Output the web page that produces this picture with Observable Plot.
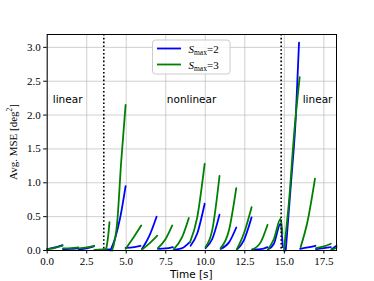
<!DOCTYPE html>
<html>
<head>
<meta charset="utf-8">
<script src="https://cdn.jsdelivr.net/npm/d3@7"></script>
<script src="https://cdn.jsdelivr.net/npm/@observablehq/plot@0.6"></script>
<style>
  html, body { margin: 0; padding: 0; background: #fff; }
  #chart svg { display: block; }
</style>
</head>
<body>
<div id="chart"></div>
<script>
// ---- data ----
const xTicks = [0, 2.5, 5, 7.5, 10, 12.5, 15, 17.5];
const yTicks = [0, 0.5, 1, 1.5, 2, 2.5, 3];
const phaseBoundaries = [3.58, 14.8];
const phaseNames = ["linear", "nonlinear", "linear"];
const phaseNameT = [1.29, 9.13, 17.1];
const phaseNameV = [2.23, 2.23, 2.23];
const seriesKeys = ["2", "3"];
const seriesColors = ["#0000ff", "#008000"];

// S_max = 2 (blue): segments of [time, avg MSE]
const blueSegments = [
  [[0, 0.02], [0.5, 0.045], [0.97, 0.08]],
  [[1.0, 0.02], [1.5, 0.025], [1.97, 0.03]],
  [[2.0, 0.015], [2.5, 0.03], [2.95, 0.06]],
  [[3.0, 0.01], [3.5, 0.012], [3.95, 0.015]],
  [[4.0, 0.0], [4.32, 0.2], [4.63, 0.5], [4.96, 0.95]],
  [[4.96, 0.04], [5.5, 0.05], [5.9, 0.07]],
  [[6.0, 0.025], [6.43, 0.2], [6.92, 0.5]],
  [[7.0, 0.025], [7.5, 0.03], [7.95, 0.05]],
  [[8.0, 0.01], [8.5, 0.03], [9.0, 0.12]],
  [[9.07, 0.07], [9.49, 0.25], [9.96, 0.69]],
  [[10.02, 0.035], [10.44, 0.17], [10.9, 0.53]],
  [[10.97, 0.025], [11.5, 0.12], [11.96, 0.34]],
  [[12.0, 0.015], [12.44, 0.15], [12.93, 0.49]],
  [[12.97, 0.015], [13.5, 0.02], [13.94, 0.05]],
  [[13.97, 0.015], [14.34, 0.1], [14.77, 0.4], [14.9, 0.05]],
  [[15.09, 0.0], [15.41, 0.96], [15.72, 1.95], [15.93, 3.07]],
  [[16.0, 0.025], [16.5, 0.045], [16.97, 0.07]],
  [[17.0, 0.02], [17.5, 0.035], [17.94, 0.05]],
  [[17.97, 0.015], [18.3, 0.07]]
];

// S_max = 3 (green)
const greenSegments = [
  [[0, 0.02], [0.5, 0.04], [0.97, 0.07]],
  [[1.0, 0.03], [1.5, 0.035], [1.97, 0.045]],
  [[2.0, 0.03], [2.5, 0.045], [2.97, 0.07]],
  [[3.0, 0.01], [3.5, 0.012], [3.7, 0.015]],
  [[3.73, 0.015], [3.85, 0.2], [3.94, 0.42]],
  [[4.1, 0.0], [4.43, 0.42], [4.68, 1.31], [4.96, 2.15]],
  [[4.96, 0.025], [5.48, 0.2], [5.95, 0.37]],
  [[6.0, 0.015], [6.54, 0.12], [6.96, 0.22]],
  [[7.0, 0.035], [7.49, 0.17], [7.91, 0.37]],
  [[8.0, 0.015], [8.54, 0.2], [8.96, 0.48]],
  [[9.03, 0.12], [9.49, 0.49], [9.96, 1.28]],
  [[10.02, 0.05], [10.44, 0.3], [10.9, 1.1]],
  [[10.97, 0.035], [11.5, 0.3], [11.96, 0.92]],
  [[11.99, 0.015], [12.44, 0.25], [12.93, 0.64]],
  [[12.97, 0.015], [13.5, 0.12], [13.94, 0.38]],
  [[13.97, 0.015], [14.34, 0.17], [14.77, 0.47], [14.88, 0.25]],
  [[14.97, 0.0], [15.29, 0.71], [15.61, 1.7], [15.97, 2.56]],
  [[16.03, 0.05], [16.46, 0.42], [16.94, 1.06]],
  [[17.0, 0.035], [17.5, 0.06], [17.94, 0.1]],
  [[18.0, 0.01], [18.3, 0.04]]
];

// ---- build table ----
function flatten(segs, key) {
  const out = [];
  segs.forEach((seg, i) => seg.forEach(([t, v]) => out.push({t, v, seg: key + "-" + i, key})));
  return out;
}
const rows = [...flatten(blueSegments, seriesKeys[0]), ...flatten(greenSegments, seriesKeys[1])];
const labels = phaseNames.map((s, i) => ({s, t: phaseNameT[i], v: phaseNameV[i]}));

const serif = "'Liberation Serif', 'DejaVu Serif', serif";
const sans = "'DejaVu Sans', sans-serif";

const W = 374, H = 281, mL = 46.7, mR = 38, mT = 34, mB = 31;

const chart = Plot.plot({
  width: W, height: H,
  marginLeft: mL, marginRight: mR, marginTop: mT, marginBottom: mB,
  style: {background: "#fff", overflow: "visible"},
  x: {domain: [0, 18.3]},
  y: {domain: [0, 3.19]},
  color: {domain: seriesKeys, range: seriesColors},
  marks: [
    Plot.gridX(xTicks, {stroke: "#b0b0b0", strokeOpacity: 0.6, strokeWidth: 1}),
    Plot.gridY(yTicks, {stroke: "#b0b0b0", strokeOpacity: 0.6, strokeWidth: 1}),
    Plot.line(rows, {x: "t", y: "v", z: "seg", stroke: "key", strokeWidth: 1.8, curve: "monotone-x"}),
    Plot.ruleX(phaseBoundaries, {stroke: "#000", strokeWidth: 1.6, strokeDasharray: "1.6,2.2"}),
    Plot.text(labels, {x: "t", y: "v", text: "s", fontFamily: sans, fontSize: 10.5, fill: "#000"}),
    Plot.axisX({ticks: xTicks, tickFormat: d => d.toFixed(1), tickSize: 3.5, tickPadding: 3, fontFamily: serif, fontSize: 11, label: null, stroke: "#000", color: "#000"}),
    Plot.axisY({ticks: yTicks, tickFormat: d => d.toFixed(1), tickSize: 3.5, tickPadding: 3, fontFamily: serif, fontSize: 11, label: null, stroke: "#000", color: "#000"}),
    Plot.frame({stroke: "#000", strokeWidth: 1})
  ]
});

const svg = d3.select(chart);

// axis labels
svg.append("text")
  .attr("x", (mL + (W - mR)) / 2).attr("y", 275)
  .attr("text-anchor", "middle").attr("dominant-baseline", "middle")
  .attr("font-family", sans).attr("font-size", 10.5).attr("fill", "#000")
  .text("Time [s]");

const yl = svg.append("text")
  .attr("transform", `translate(14, ${(mT + (H - mB)) / 2}) rotate(-90)`)
  .attr("text-anchor", "middle").attr("dominant-baseline", "middle")
  .attr("font-family", serif).attr("font-size", 11).attr("fill", "#000");
yl.append("tspan").text("Avg. MSE [deg");
yl.append("tspan").attr("font-size", 7.5).attr("dy", -4).text("2");
yl.append("tspan").attr("dy", 4).text("]");

// legend
const lg = svg.append("g");
lg.append("rect")
  .attr("x", 152.5).attr("y", 40).attr("width", 77.5).attr("height", 34)
  .attr("rx", 3).attr("fill", "#fff").attr("fill-opacity", 0.8)
  .attr("stroke", "#ccc").attr("stroke-width", 1);
seriesKeys.forEach((k, i) => {
  const y = 48.5 + i * 16;
  lg.append("line").attr("x1", 157).attr("x2", 181).attr("y1", y).attr("y2", y)
    .attr("stroke", seriesColors[i]).attr("stroke-width", 1.8);
  const t = lg.append("text").attr("x", 188.5).attr("y", y + 4)
    .attr("text-anchor", "start")
    .attr("font-family", serif).attr("font-size", 11).attr("fill", "#000");
  t.append("tspan").attr("font-style", "italic").text("S");
  t.append("tspan").attr("font-size", 7.5).attr("dy", 2).text("max");
  t.append("tspan").attr("dy", -2).text("=" + k);
});

document.getElementById("chart").appendChild(chart);
</script>
</body>
</html>
